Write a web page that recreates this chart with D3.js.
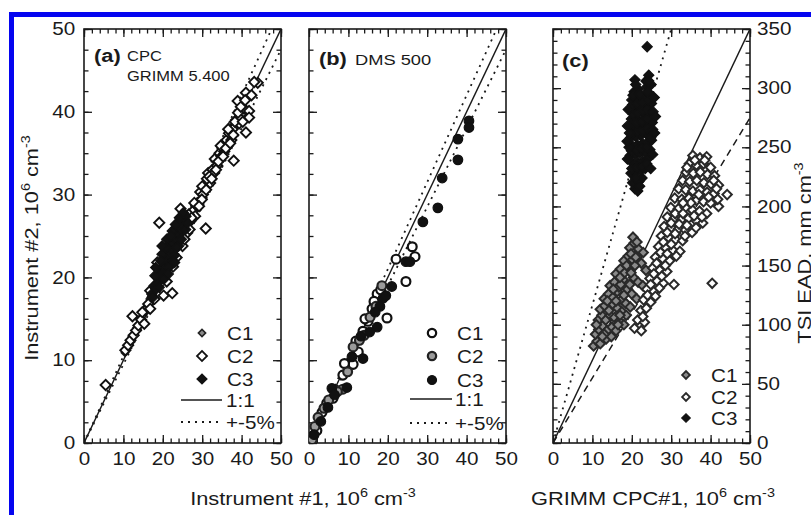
<!DOCTYPE html>
<html>
<head>
<meta charset="utf-8">
<script src="https://cdn.jsdelivr.net/npm/d3@7"></script>
<style>
  body { margin: 0; background: #fff; }
  text { font-family: "Liberation Sans", Arial, sans-serif; fill: #1a1a1a; }
</style>
</head>
<body>
<div id="chart"></div>
<script>
// ---- data ----
var xTicks = [0, 10, 20, 30, 40, 50];
var yTicksAB = [0, 10, 20, 30, 40, 50];
var yTicksC = [0, 50, 100, 150, 200, 250, 300, 350];
var legendNames = ["C1", "C2", "C3"];

// (a) CPC vs GRIMM 5.400
var aC1 = [[10.4,10.9],[11.0,11.5],[11.6,12.0],[12.1,12.8],[12.7,13.2],[13.3,13.9],[13.9,14.3],[14.4,15.1],
  [15.0,15.4],[15.5,16.2],[16.1,16.6],[16.7,17.4],[17.2,17.8],[17.8,18.6],[18.3,19.1],[18.9,19.8],[19.4,20.3],
  [20.0,21.0],[20.6,21.4],[21.2,22.2]];
var aC2 = [[5.5,7.0],[10.5,11.2],[11.2,11.8],[11.8,12.4],[12.3,15.3],[12.6,13.0],[13.2,13.6],[13.8,14.2],
  [14.5,14.9],[15.3,14.4],[15.6,16.0],[16.3,16.8],[16.8,18.4],[17.4,17.6],[18.0,18.8],[18.6,21.8],[19.1,26.6],
  [20.2,17.8],[22.4,18.1],[21.0,19.5],[22.6,21.3],[23.5,22.4],[24.5,28.3],[25.0,23.8],[26.2,25.4],[27.0,26.8],
  [27.6,28.0],[28.2,27.4],[28.8,29.0],[29.5,30.3],[30.2,30.0],[30.9,25.9],[30.8,31.2],[31.5,32.6],[32.0,31.4],
  [32.6,33.0],[33.2,34.3],[33.8,33.5],[34.4,35.0],[35.0,35.8],[35.6,35.2],[36.2,36.6],[36.8,37.4],[37.4,36.6],
  [38.0,34.1],[38.0,38.2],[38.6,39.0],[39.0,41.3],[39.4,38.6],[40.0,39.8],[40.6,40.4],[41.1,42.3],[41.9,40.1],
  [41.9,39.3],[41.1,37.5],[44.1,43.5],[28.5,28.7],[29.9,29.4],[31.2,31.9],[33.0,32.6],[34.9,34.6],[36.5,35.9],
  [37.7,37.9],[39.6,39.2],[26.6,27.6],[27.3,27.2],[28.0,29.0],[29.2,28.6],[30.0,31.0],[31.0,30.6],[31.8,32.2],
  [32.4,31.9],[33.5,33.0],[34.1,34.0],[34.7,35.9],[35.3,34.6],[36.0,35.6],[36.6,37.9],[37.1,36.2],[37.9,37.2],
  [38.3,38.8],[39.1,39.9],[39.8,40.6],[40.3,38.8],[40.9,41.4],[42.5,42.0],[43.2,43.6],[23.8,25.4],[25.5,24.6],
  [26.8,25.8],[16.8,16.2],[17.9,17.4],[14.8,15.8]];
var aC3 = [[17.2,18.0],[17.8,19.0],[18.3,18.6],[18.6,20.1],[19.0,19.5],[19.3,21.0],[19.7,20.4],[20.0,21.8],
  [20.4,21.2],[20.6,22.6],[21.0,22.0],[21.2,23.3],[21.6,22.7],[21.8,24.0],[22.2,23.4],[22.3,24.7],[22.7,24.1],
  [23.0,25.3],[23.3,24.6],[23.5,25.9],[23.9,25.2],[24.1,26.4],[24.5,25.8],[24.8,27.0],[25.2,26.3],[25.6,26.9],
  [20.8,20.6],[21.8,21.4],[22.9,22.6],[24.0,23.8],[19.8,22.8],[21.0,24.6],[22.4,25.6],[18.6,19.3],[25.9,27.4],
  [17.5,17.6],[18.0,20.2],[19.1,18.8],[19.5,22.0],[20.3,19.8],[20.8,23.6],[21.5,21.2],[22.0,25.0],[22.6,22.0],
  [23.2,26.4],[23.6,23.6],[24.2,27.2],[24.7,24.6],[25.2,27.8],[25.8,25.8],[26.3,26.6],[21.4,20.4],[23.0,21.8],
  [18.2,21.2],[19.8,23.8]];

// (b) DMS 500
var bC1 = [[26.2,23.7],[26.9,22.5],[22.1,22.2],[24.6,19.5],[17.3,18.0],[16.5,17.1],[19.8,15.1],[15.0,14.7],
  [13.7,13.5],[11.9,12.3],[11.2,9.5],[8.6,8.2],[6.1,5.4],[3.3,3.7],[1.0,0.8],[16.0,16.2],[12.5,11.0],[9.0,9.6],
  [4.5,4.8],[2.0,1.5],[18.2,18.5],[14.2,15.0]];
var bC2 = [[11.2,11.6],[8.6,6.5],[2.3,3.1],[1.5,2.0],[17.0,16.5],[14.0,13.0],[12.8,12.4],[9.8,8.6],[5.0,5.2],
  [0.8,0.4],[18.5,19.0],[15.5,15.2],[3.8,4.2],[7.2,6.2]];
var bC3 = [[40.6,38.9],[40.6,38.1],[37.8,36.7],[37.8,34.2],[33.8,32.0],[32.7,28.4],[28.9,26.7],[24.6,21.9],
  [25.6,21.9],[21.0,18.9],[18.8,17.5],[18.0,16.5],[17.3,14.0],[13.2,12.9],[10.9,10.4],[13.7,10.2],[9.6,6.7],
  [5.8,6.6],[4.8,4.3],[16.8,15.8],[19.5,17.8],[3.0,2.6],[1.3,1.0],[6.5,5.8],[15.4,13.4]];

// (c) GRIMM CPC#1 vs TSI EAD
var cC1 = [[10.3,82],[11.2,86],[12.0,84],[13.5,88],[14.8,90],[10.8,92],[11.6,96],[12.6,99],[13.7,95],[15.0,98],
  [11.5,104],[12.4,108],[13.4,104],[14.5,108],[15.6,106],[16.8,103],[18.0,100],[12.0,113],[13.1,116],[14.2,112],
  [15.3,117],[16.4,114],[17.5,111],[18.6,108],[13.0,122],[14.1,126],[15.2,123],[16.3,128],[17.4,121],[18.5,118],
  [19.6,115],[14.5,133],[15.6,136],[16.7,132],[17.8,138],[18.9,130],[20.0,126],[21.2,122],[16.0,143],[17.1,147],
  [18.2,144],[19.3,149],[20.4,140],[21.6,136],[22.8,133],[18.0,154],[19.1,158],[20.2,155],[21.3,160],[22.4,152],
  [23.6,146],[19.5,165],[20.6,169],[21.7,164],[22.9,161],[20.3,174],[11.0,100],[13.0,92],[16.0,95],[17.0,108],
  [13.8,120],[16.0,120],[18.0,125],[15.3,130],[17.2,134],[19.5,134],[17.0,140],[19.8,144],[18.7,150],[20.8,150],
  [19.8,160],[21.0,157],[21.3,170],[12.5,90],[16.5,100]];
var cC2 = [[35.5,243],[37.3,241],[39.0,242],[34.6,236],[36.4,235],[38.2,236],[40.0,233],[33.8,229],[35.6,228],
  [37.4,229],[39.2,227],[41.0,226],[32.9,222],[34.7,221],[36.5,222],[38.3,220],[40.1,219],[42.0,218],[31.9,215],
  [33.7,214],[35.5,213],[37.3,214],[39.1,212],[40.9,211],[30.9,207],[32.7,206],[34.5,207],[36.4,205],[38.2,204],
  [40.0,203],[42.0,200],[29.9,199],[31.8,198],[33.6,199],[35.4,197],[37.2,196],[39.0,194],[29.0,191],[30.8,190],
  [32.6,189],[34.4,190],[36.3,188],[38.0,186],[28.2,183],[30.0,182],[31.8,181],[33.6,180],[35.3,178],[27.5,175],
  [29.3,174],[31.1,172],[32.9,171],[26.8,166],[28.6,165],[30.4,163],[32.2,162],[26.0,157],[27.8,156],[29.6,154],
  [25.3,148],[27.1,146],[28.9,145],[24.6,139],[26.4,137],[28.0,135],[23.8,130],[25.6,128],[23.0,121],[24.8,119],
  [22.3,112],[21.5,104],[23.2,102],[20.7,97],[22.4,95],[30.7,134],[40.4,135],[44.2,210],
  [34.0,233],[36.0,239],[38.5,239],[40.8,222],[41.5,215],[41.8,206],[39.5,208],[37.0,210],[35.0,203],[33.0,203],
  [31.0,194],[33.0,194],[35.8,192],[37.8,191],[30.0,186],[32.0,185],[34.0,184],[36.3,182],[29.0,178],[31.0,177],
  [33.5,175],[28.0,170],[30.0,168],[27.3,161],[29.0,160],[31.3,158],[26.3,152],[28.5,150],[25.6,143],[27.6,141],
  [24.8,134],[27.0,131],[24.0,125],[26.0,124],[23.7,114],[22.8,107]];
var cC3 = [[20.8,215],[21.5,213],[20.2,220],[21.8,221],[22.6,224],[19.8,228],[21.0,229],[22.2,230],[23.4,232],
  [20.4,236],[21.6,237],[22.8,238],[24.0,240],[19.6,243],[20.9,244],[22.1,245],[23.3,246],[24.6,248],[20.2,251],
  [21.4,252],[22.7,253],[23.9,254],[25.0,256],[19.7,258],[21.0,259],[22.3,260],[23.5,262],[24.7,263],[20.4,266],
  [21.6,267],[22.9,268],[24.1,270],[25.2,271],[19.9,274],[21.1,275],[23.4,277],[24.6,279],[20.5,282],[21.7,284],
  [23.8,285],[25.0,287],[20.0,290],[21.2,291],[23.3,293],[24.5,295],[20.6,297],[21.6,299],[23.8,301],[24.9,303],
  [20.8,307],[23.6,306],[24.3,311],[23.9,335],
  [20.0,232],[21.3,233],[22.6,234],[23.8,236],[19.9,247],[21.2,248],[22.5,249],[23.8,250],[20.3,262],[21.5,263],
  [22.7,264],[23.9,266],[20.1,270],[21.3,271],[22.6,272],[23.9,274],[20.4,278],[21.6,279],[22.8,281],[24.0,282],
  [20.2,286],[21.4,287],[22.7,288],[24.2,290],[20.3,294],[22.0,295],[24.0,297],[21.0,303],[24.3,306],[22.0,217],
  [21.0,224],[24.8,258],[25.3,265],[25.4,280],[19.4,262],[19.3,250],
  [18.9,240],[18.8,255],[18.9,268],[19.1,282],[25.8,262],[26.0,276],[25.7,292],[25.3,244],[24.8,232]];

// reference lines: slopes through the origin
var abLines = [1, 1.05, 0.95];
var cLines = [350 / 30, 7, 5.5];

// ---- drawing ----
var SX = 1.18;   // the figure's font is wider than Arial
var yTop = 29, yBot = 443, pw = 197;

var svg = d3.select("#chart").append("svg")
    .attr("width", 811)
    .attr("height", 515);

svg.append("rect").attr("width", 811).attr("height", 515).attr("fill", "#fff");
svg.append("rect")
    .attr("x", 11.5).attr("y", 14.5)
    .attr("width", 900).attr("height", 600)
    .attr("fill", "none")
    .attr("stroke", "#0505f0")
    .attr("stroke-width", 5);

// text with optional superscript parts: parts = [[str, sup], ...]
function label(x, y, parts, size, rot, anchor, weight) {
    var t = svg.append("text")
        .attr("transform", "translate(" + x + "," + y + ") rotate(" + (rot || 0) + ") scale(" + SX + ",1)")
        .attr("text-anchor", anchor || "start")
        .attr("font-size", size)
        .attr("font-weight", weight || "normal");
    var up = false;
    parts.forEach(function(p) {
        var sp = t.append("tspan").text(p[0]);
        if (p[1] && !up) { sp.attr("dy", -size * 0.45).attr("font-size", size * 0.66); up = true; }
        else if (p[1]) { sp.attr("font-size", size * 0.66); }
        else if (up) { sp.attr("dy", size * 0.45); up = false; }
    });
    return t;
}

var diamond = d3.symbol().type(d3.symbolSquare);
var circle = d3.symbol().type(d3.symbolCircle);

function panel(left, yMax, yMajor, yMinor, yTicks, leftLabels, rightLabels) {
    var x = d3.scaleLinear().domain([0, 50]).range([left, left + pw]);
    var y = d3.scaleLinear().domain([0, yMax]).range([yBot, yTop]);
    var g = svg.append("g");

    function ax(gen, tx, ty, vals, size, fmt) {
        var a = g.append("g")
            .attr("transform", "translate(" + tx + "," + ty + ")")
            .call(gen.tickValues(vals).tickSize(-size).tickPadding(8).tickFormat(fmt || ""));
        a.select(".domain").remove();
        a.selectAll("line").attr("stroke", "#1a1a1a").attr("stroke-width", 1.3);
        a.selectAll("text")
            .attr("font-size", 17.5)
            .attr("font-family", "'Liberation Sans', Arial, sans-serif")
            .attr("fill", "#1a1a1a")
            .attr("transform", "scale(" + SX + ",1)");
        return a;
    }
    var minX = d3.range(0, 50.01, 2);
    var minY = d3.range(0, yMax + 0.01, yMinor);
    var fmt = function(d) { return d; };

    ax(d3.axisBottom(x), 0, yBot, minX, 4.5);
    ax(d3.axisTop(x), 0, yTop, minX, 4.5);
    ax(d3.axisLeft(y), left, 0, minY, 4.5);
    ax(d3.axisRight(y), left + pw, 0, minY, 4.5);
    ax(d3.axisBottom(x), 0, yBot, xTicks, 8, fmt).selectAll("text").attr("y", 10);
    ax(d3.axisTop(x), 0, yTop, xTicks, 8);
    var la = ax(d3.axisLeft(y), left, 0, yTicks, 8, leftLabels ? fmt : "");
    la.selectAll("text").attr("x", -7.5);
    var ra = ax(d3.axisRight(y), left + pw, 0, yTicks, 8, rightLabels ? fmt : "");
    ra.selectAll("text").attr("x", 6);

    g.append("rect")
        .attr("x", left).attr("y", yTop)
        .attr("width", pw).attr("height", yBot - yTop)
        .attr("fill", "none")
        .attr("stroke", "#1a1a1a")
        .attr("stroke-width", 1.6);

    var clip = "clip" + left;
    svg.append("clipPath").attr("id", clip)
        .append("rect").attr("x", left).attr("y", yTop).attr("width", pw).attr("height", yBot - yTop);
    var plot = g.append("g").attr("clip-path", "url(#" + clip + ")");
    return { x: x, y: y, g: g, plot: plot };
}

function refLine(p, slope, dash, w) {
    var xEnd = Math.min(50, p.y.domain()[1] / slope);
    p.plot.append("line")
        .attr("x1", p.x(0)).attr("y1", p.y(0))
        .attr("x2", p.x(xEnd)).attr("y2", p.y(slope * xEnd))
        .attr("stroke", "#1a1a1a")
        .attr("stroke-width", w)
        .attr("stroke-dasharray", dash);
}

function dots(p, data, shape, size, fill, stroke, sw) {
    p.plot.selectAll(null)
        .data(data)
        .enter().append("path")
        .attr("d", shape.size(size)())
        .attr("transform", function(d) {
            return "translate(" + p.x(d[0]) + "," + p.y(d[1]) + ")" + (shape === diamond ? " rotate(45)" : "");
        })
        .attr("fill", fill)
        .attr("stroke", stroke)
        .attr("stroke-width", sw);
}

function legendMark(p, cx, cy, shape, size, fill, stroke, sw) {
    p.g.append("path")
        .attr("d", shape.size(size)())
        .attr("transform", "translate(" + cx + "," + cy + ")" + (shape === diamond ? " rotate(45)" : ""))
        .attr("fill", fill).attr("stroke", stroke).attr("stroke-width", sw);
}

// ---- panel (a) ----
var pa = panel(84, 50, 10, 2.5, yTicksAB, true, false);
refLine(pa, abLines[1], "2,5", 1.8);
refLine(pa, abLines[2], "2,5", 1.8);
refLine(pa, abLines[0], null, 1.4);
dots(pa, aC1, diamond, 26, "#8a8a8a", "#222", 1.6);
dots(pa, aC2, diamond, 52, "#fff", "#111", 1.9);
dots(pa, aC3, diamond, 52, "#111", "#111", 1.2);

var aStyles = [[diamond, 26, "#8a8a8a", "#222", 1.6], [diamond, 50, "#fff", "#111", 1.8], [diamond, 50, "#111", "#111", 1.2]];
[333, 356, 379].forEach(function(ly, i) {
    var s = aStyles[i];
    legendMark(pa, 202, ly, s[0], s[1], s[2], s[3], s[4]);
    label(227, ly + 6.5, [[legendNames[i]]], 17.5);
});
pa.g.append("line").attr("x1", 181).attr("x2", 222).attr("y1", 400).attr("y2", 400)
    .attr("stroke", "#1a1a1a").attr("stroke-width", 1.4);
label(226, 406.5, [["1:1"]], 17.5);
pa.g.append("line").attr("x1", 181).attr("x2", 222).attr("y1", 422).attr("y2", 422)
    .attr("stroke", "#1a1a1a").attr("stroke-width", 1.8).attr("stroke-dasharray", "2,5");
label(226, 428.5, [["+-5%"]], 17.5);

label(94, 62, [["(a)"]], 18.5, 0, "start", "bold");
label(127, 61, [["CPC"]], 14);
label(127, 81, [["GRIMM 5.400"]], 14);

// ---- panel (b) ----
var pb = panel(309, 50, 10, 2.5, yTicksAB, false, false);
refLine(pb, abLines[1], "2,5", 1.8);
refLine(pb, abLines[2], "2,5", 1.8);
refLine(pb, abLines[0], null, 1.4);
dots(pb, bC1, circle, 62, "#fff", "#111", 2.2);
dots(pb, bC2, circle, 62, "#9a9a9a", "#222", 2.2);
dots(pb, bC3, circle, 72, "#111", "#111", 1.2);

var bStyles = [[circle, 55, "#fff", "#111", 2.2], [circle, 55, "#9a9a9a", "#222", 2.2], [circle, 64, "#111", "#111", 1.2]];
[333, 356, 380].forEach(function(ly, i) {
    var s = bStyles[i];
    legendMark(pb, 432, ly, s[0], s[1], s[2], s[3], s[4]);
    label(457, ly + 6.5, [[legendNames[i]]], 17.5);
});
pb.g.append("line").attr("x1", 410).attr("x2", 452).attr("y1", 399).attr("y2", 399)
    .attr("stroke", "#1a1a1a").attr("stroke-width", 1.4);
label(455, 405.5, [["1:1"]], 17.5);
pb.g.append("line").attr("x1", 410).attr("x2", 452).attr("y1", 423).attr("y2", 423)
    .attr("stroke", "#1a1a1a").attr("stroke-width", 1.8).attr("stroke-dasharray", "2,5");
label(455, 429.5, [["+-5%"]], 17.5);

label(319, 65, [["(b)"]], 18.5, 0, "start", "bold");
label(355, 65, [["DMS 500"]], 15.5);

// ---- panel (c) ----
var pc = panel(553, 350, 50, 10, yTicksC, false, true);
refLine(pc, cLines[0], "2,5", 1.8);
refLine(pc, cLines[1], null, 1.4);
refLine(pc, cLines[2], "7,5", 1.5);
dots(pc, cC1, diamond, 44, "#8a8a8a", "#2a2a2a", 2);
dots(pc, cC2, diamond, 44, "#fff", "#2a2a2a", 2);
dots(pc, cC3, diamond, 52, "#111", "#111", 1.2);

var cStyles = [[diamond, 30, "#8a8a8a", "#2a2a2a", 1.8], [diamond, 30, "#fff", "#2a2a2a", 1.8], [diamond, 36, "#111", "#111", 1.2]];
[375, 397, 418].forEach(function(ly, i) {
    var s = cStyles[i];
    legendMark(pc, 686, ly, s[0], s[1], s[2], s[3], s[4]);
    label(711, ly + 6.5, [[legendNames[i]]], 17.5);
});
label(562, 67, [["(c)"]], 18.5, 0, "start", "bold");

// ---- axis titles ----
label(38, 248, [["Instrument #2,  10"], ["6", true], [" cm"], ["-3", true]], 18.5, -90, "middle");
label(303, 505, [["Instrument #1,  10"], ["6", true], [" cm"], ["-3", true]], 18.5, 0, "middle");
label(653, 505, [["GRIMM CPC#1,  10"], ["6", true], [" cm"], ["-3", true]], 18.5, 0, "middle");
label(811, 253, [["TSI EAD,  mm cm"], ["-3", true]], 18.5, -90, "middle");
</script>
</body>
</html>
